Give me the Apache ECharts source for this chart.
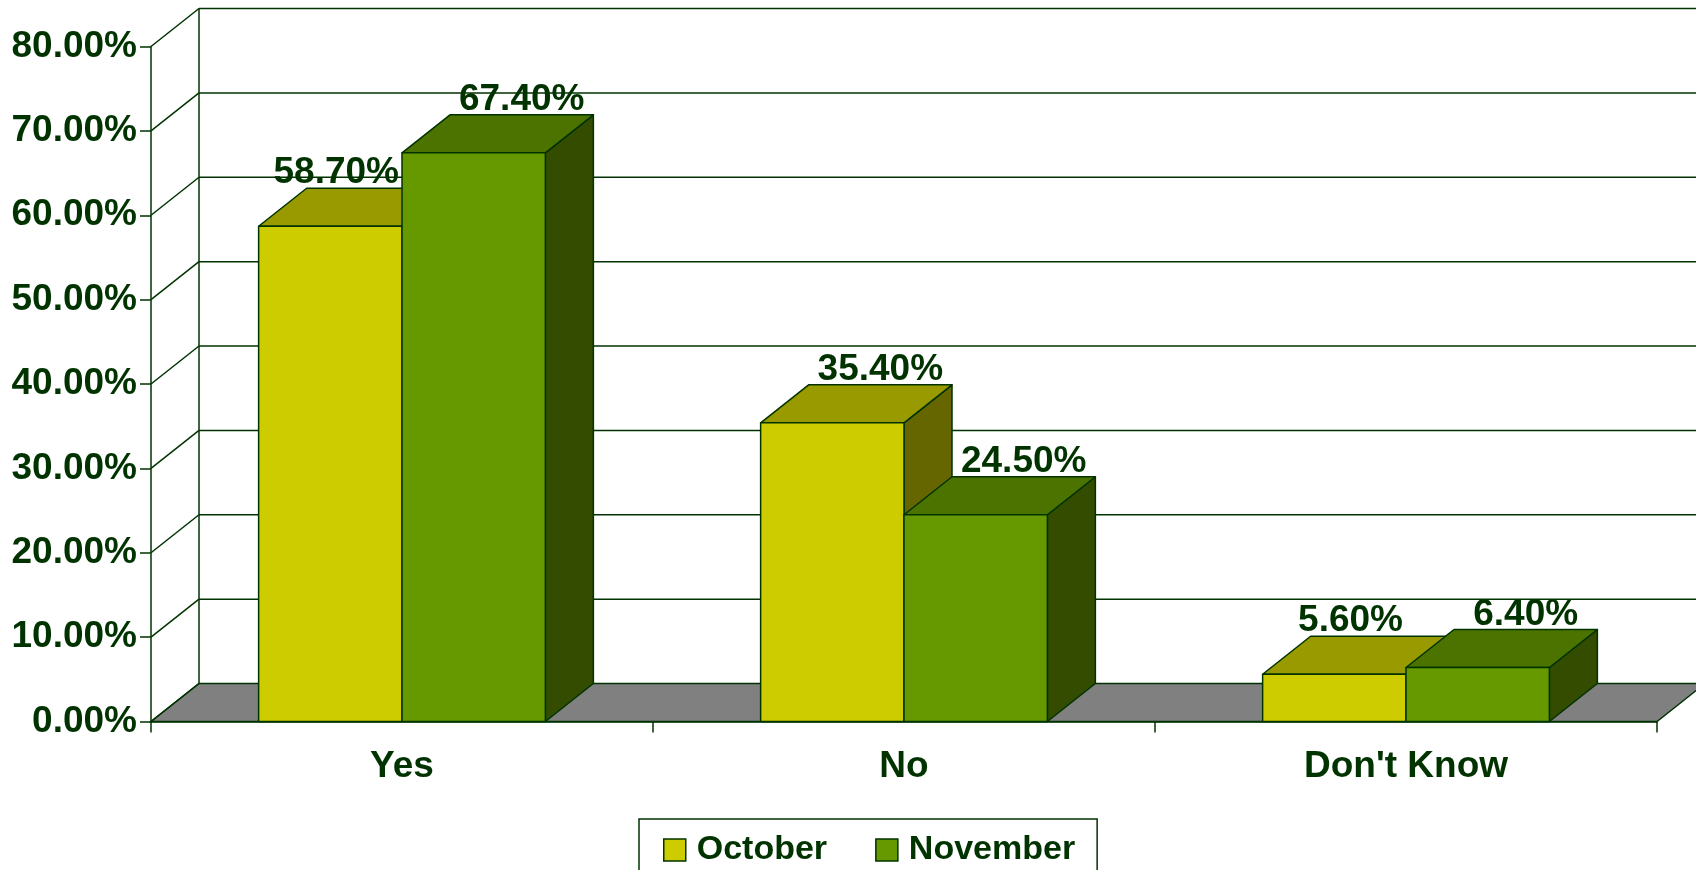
<!DOCTYPE html>
<html>
<head>
<meta charset="utf-8">
<title>Yes / No / Don't Know</title>
<script src="https://cdn.jsdelivr.net/npm/echarts@6/dist/echarts.min.js"></script>
<style>
  html, body { margin: 0; padding: 0; background: #fff; }
  #chart { width: 1696px; height: 870px; }
</style>
</head>
<body>
<div id="chart"></div>
<script>
// data
const categories = ['Yes', 'No', "Don't Know"];
const seriesNames = ['October', 'November'];
const october = [58.7, 35.4, 5.6];
const november = [67.4, 24.5, 6.4];
const yMin = 0, yMax = 80, yStep = 10;

// look
const INK = '#003300';
const FONT_FAMILY = '"Liberation Sans", Arial, sans-serif';
const LABEL_SIZE = 37;
const DX = 48, DY = -38;      // 3d depth offset
const BAR_RATIO = 0.2856;     // bar width / category band
const faces = [
  { front: '#cccc00', top: '#999900', side: '#666600' },
  { front: '#669900', top: '#4c7200', side: '#334c00' }
];

const measure = document.createElement('canvas').getContext('2d');
measure.font = 'bold ' + LABEL_SIZE + 'px ' + FONT_FAMILY;

function wallItem(params, api) {
  const cs = params.coordSys;
  const left = cs.x, right = cs.x + cs.width;
  const children = [];
  const line = (x1, y1, x2, y2) => ({
    type: 'line',
    shape: { x1, y1, x2, y2 },
    style: { stroke: INK, lineWidth: 1.5 }
  });
  const y0 = api.coord([0, yMin])[1];
  const yTop = api.coord([0, yMax])[1];
  // floor
  children.push({
    type: 'polygon',
    shape: { points: [[left, y0], [right, y0], [right + DX, y0 + DY], [left + DX, y0 + DY]] },
    style: { fill: '#808080', stroke: INK, lineWidth: 1.5 }
  });
  // back wall
  children.push(line(left + DX, y0 + DY, left + DX, yTop + DY));
  for (let v = yMin; v <= yMax; v += yStep) {
    const y = api.coord([0, v])[1];
    if (v > yMin) children.push(line(left + DX, y + DY, right + DX + 20, y + DY));
    children.push(line(left, y, left + DX, y + DY));
  }
  return { type: 'group', children };
}

function barItem(si) {
  return function (params, api) {
    const idx = api.value(0), val = api.value(1);
    const base = api.coord([idx, yMin]);
    const top = api.coord([idx, val]);
    const w = api.size([1, 0])[0] * BAR_RATIO;
    const x0 = si === 0 ? base[0] - w : base[0];
    const x1 = x0 + w;
    const y0 = base[1], y1 = top[1];
    const c = faces[si];
    const edge = { stroke: INK, lineWidth: 1.5, lineJoin: 'round' };
    const text = val.toFixed(2) + '%';
    let cx = (x0 + x1) / 2 + DX;
    // keep the October label clear of a taller November bar
    if (si === 0 && november[idx] > val) {
      const tw = measure.measureText(text).width;
      cx = Math.min(cx, x1 - 3 - tw / 2);
    }
    return {
      type: 'group',
      children: [
        { type: 'polygon', shape: { points: [[x1, y1], [x1 + DX, y1 + DY], [x1 + DX, y0 + DY], [x1, y0]] },
          style: Object.assign({ fill: c.side }, edge) },
        { type: 'polygon', shape: { points: [[x0, y1], [x1, y1], [x1 + DX, y1 + DY], [x0 + DX, y1 + DY]] },
          style: Object.assign({ fill: c.top }, edge) },
        { type: 'rect', shape: { x: x0, y: y1, width: w, height: y0 - y1 },
          style: Object.assign({ fill: c.front }, edge) },
        { type: 'text', z2: 100,
          style: { text, x: cx, y: y1 + DY - 15, fill: INK, align: 'center', verticalAlign: 'middle',
                   font: 'bold ' + LABEL_SIZE + 'px ' + FONT_FAMILY } }
      ]
    };
  };
}

const chart = echarts.init(document.getElementById('chart'));
chart.setOption({
  backgroundColor: '#fff',
  animation: false,
  textStyle: { fontFamily: FONT_FAMILY },
  grid: { left: 151, right: 39, top: 46.5, bottom: 148.5, containLabel: false, outerBoundsMode: 'none' },
  legend: {
    data: seriesNames,
    left: 639,
    top: 819,
    padding: [14, 22, 12, 24],
    borderColor: INK,
    borderWidth: 1.5,
    itemGap: 48,
    itemWidth: 22,
    itemHeight: 22,
    icon: 'rect',
    itemStyle: { borderColor: INK, borderWidth: 1.5 },
    textStyle: { color: INK, fontSize: 34, fontWeight: 'bold', fontFamily: FONT_FAMILY, padding: [0, 0, 0, 6] }
  },
  xAxis: {
    type: 'category',
    data: categories,
    boundaryGap: true,
    axisLine: { show: true, lineStyle: { color: INK, width: 1.5 } },
    axisTick: { show: true, interval: 0, length: 11, lineStyle: { color: INK, width: 1.5 } },
    axisLabel: { color: INK, fontSize: LABEL_SIZE, fontWeight: 'bold', margin: 27, interval: 0 },
    splitLine: { show: false }
  },
  yAxis: {
    type: 'value',
    min: yMin,
    max: yMax,
    interval: yStep,
    axisLine: { show: true, lineStyle: { color: INK, width: 1.5 } },
    axisTick: { show: true, length: 11, lineStyle: { color: INK, width: 1.5 } },
    axisLabel: { color: INK, fontSize: LABEL_SIZE, fontWeight: 'bold', margin: 14,
                 formatter: v => v.toFixed(2) + '%' },
    splitLine: { show: false }
  },
  series: [
    { type: 'custom', name: 'wall', silent: true, clip: false, z: 1,
      data: [[0, 0]], renderItem: wallItem },
    { type: 'custom', name: seriesNames[0], clip: false, z: 2,
      itemStyle: { color: faces[0].front },
      data: october.map((v, i) => [i, v]), renderItem: barItem(0) },
    { type: 'custom', name: seriesNames[1], clip: false, z: 2,
      itemStyle: { color: faces[1].front },
      data: november.map((v, i) => [i, v]), renderItem: barItem(1) }
  ]
});
</script>
</body>
</html>
